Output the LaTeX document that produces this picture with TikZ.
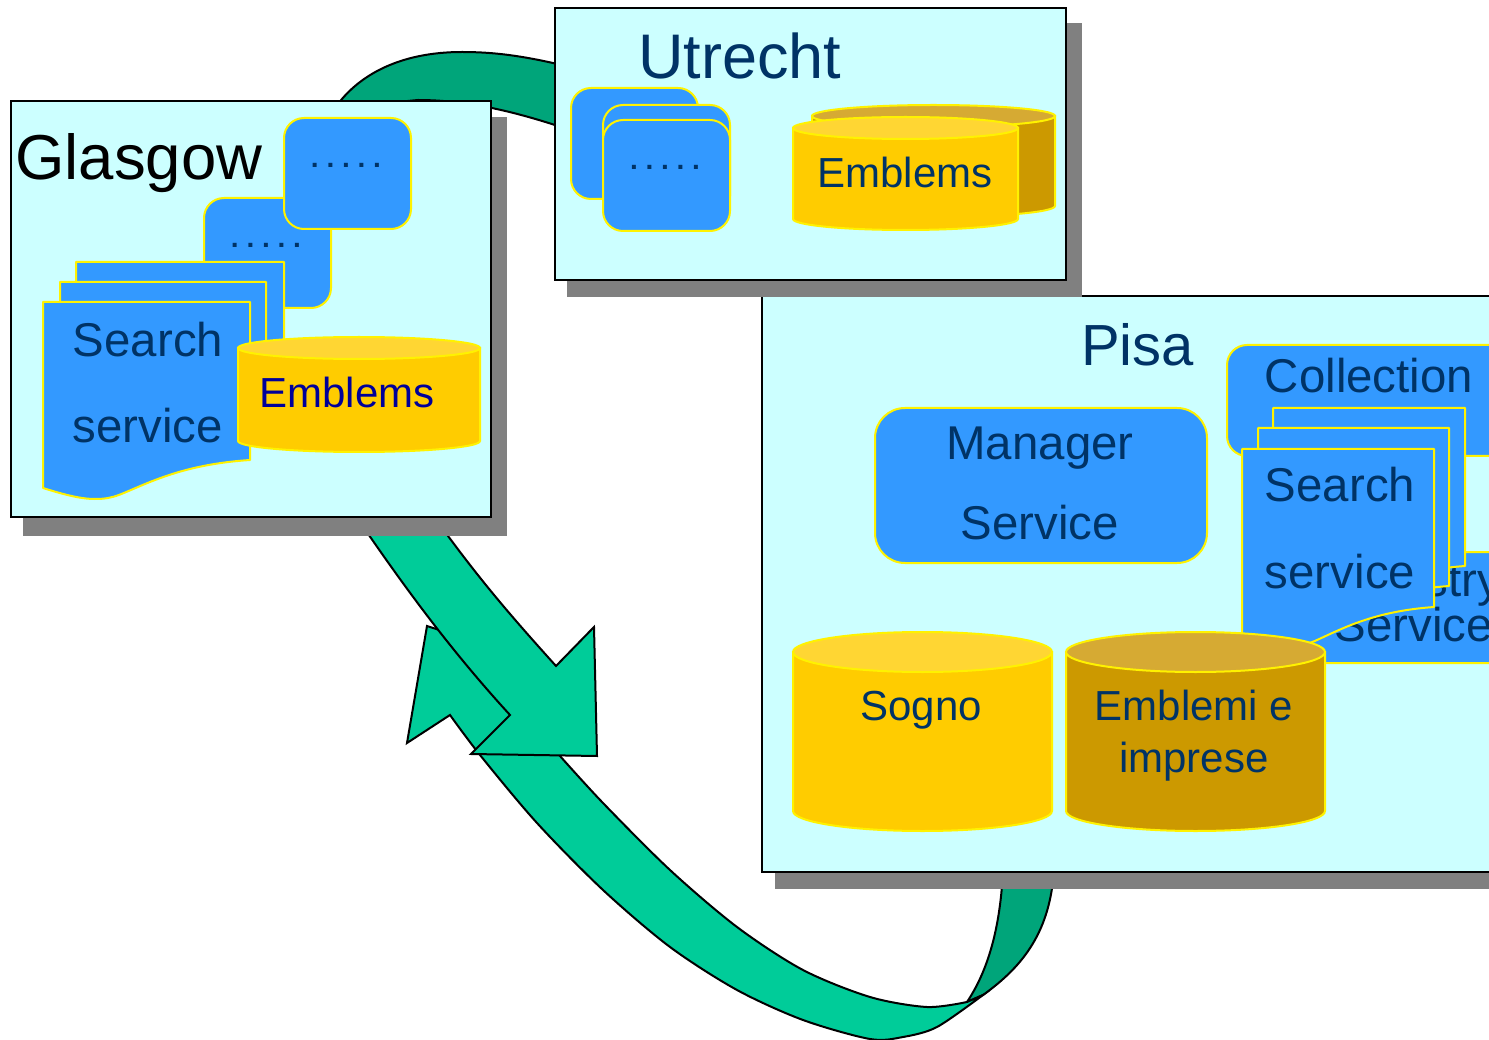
\documentclass[tikz,border=0pt]{standalone}
\usepackage{fontspec}
\setmainfont{Liberation Sans}
\usetikzlibrary{
shadows,
positioning
}
\definecolor{sitecyan}{HTML}{CCFFFF}
\definecolor{shadowgray}{HTML}{808080}
\definecolor{serviceblue}{HTML}{3399FF}
\definecolor{textnavy}{HTML}{003366}
\definecolor{goldbody}{HTML}{FFCC00}
\definecolor{goldtop}{HTML}{FFD633}
\definecolor{darkbody}{HTML}{CC9900}
\definecolor{darktop}{HTML}{D6AA33}
\definecolor{ribbon}{HTML}{00CC99}
\definecolor{ribbonback}{HTML}{00A57A}
\tikzset{
	site/.style 2 args={draw=black,fill=sitecyan,line width=2pt,anchor=north west,inner sep=0pt,outer sep=0pt,
		drop shadow={shadow xshift=#1pt,shadow yshift=-#2pt,shadow scale=1.007,fill=shadowgray,opacity=1}},
	service/.style={draw=yellow,fill=serviceblue,line width=2pt,rounded corners=20pt,anchor=north west,inner sep=0pt,outer sep=0pt},
	page/.style={draw=yellow,fill=serviceblue,line width=2pt,line join=round},
	band/.style={draw=black,fill=ribbon,line width=2pt,line join=miter},
	sitelabel/.style={text=textnavy,anchor=base west,inner sep=0pt},
	label/.style={text=textnavy,inner sep=0pt,align=center},
	dots/.style={label,font=\fontsize{28}{30}\selectfont\bfseries\frenchspacing}
}
% x, y, width
\newcommand{\docpage}[3]{
	\filldraw[page] (#1,#2) -- (#1+#3,#2) -- (#1+#3,#2+158)
		.. controls (#1+.783*#3,#2+161) and (#1+.638*#3,#2+170) .. (#1+.517*#3,#2+180)
		.. controls (#1+.372*#3,#2+192) and (#1+.348*#3,#2+197) .. (#1+.251*#3,#2+197)
		.. controls (#1+.179*#3,#2+197) and (#1+.092*#3,#2+192) .. (#1,#2+186) -- cycle;
}
% left, y of top centre, width, body height, top radius, body colour, top colour
\newcommand{\drum}[7]{
	\filldraw[draw=yellow,fill=#6,line width=2pt] (#1,#2) -- ++(0,#4) arc[start angle=180,end angle=0,x radius=#3/2,y radius=#5] -- ++(0,-#4) -- cycle;
	\filldraw[draw=yellow,fill=#7,line width=2pt] (#1+#3/2,#2) ellipse[x radius=#3/2,y radius=#5];
}
\begin{document}
\begin{tikzpicture}[x=1pt,y=-1pt,font=\fontsize{47.4}{56}\selectfont]
	\useasboundingbox (0,0) rectangle (1489,1040);
	\clip (0,0) rectangle (1489,1040);

	% back of the ribbon
	\filldraw[band,fill=ribbonback] (335,108) .. controls (358,75) and (400,52) .. (462,52) .. controls (495,52) and (525,56) .. (570,67)
		-- (570,130) .. controls (520,113) and (470,100) .. (418,100) -- (335,108) -- cycle;
	\filldraw[band,fill=ribbonback] (967,1002) .. controls (985,975) and (1000,935) .. (1003,870)
		-- (1054,870) .. controls (1050,930) and (1025,965) .. (983,995) -- cycle;

	% ribbon going up, then the one going down on top of it
	\filldraw[band] (427,626) -- (407,743)
		-- plot[smooth] coordinates {(450,715) (480,755) (537,823) (603,890) (670,947) (737,990) (803,1020) (870,1039) (903,1037) (937,1027) (983,995)}
		-- plot[smooth] coordinates {(967,1002) (927,1007) (870,997) (803,970) (737,927) (670,870) (603,803) (560,756)}
		-- (530,720) -- (470,640) -- cycle;
	\filldraw[band] (362,525) .. controls (410,595) and (455,655) .. (510,715) -- (471,754) -- (597,756) -- (594,627) -- (556,666)
		.. controls (510,615) and (480,580) .. (440,525) -- cycle;

	% Pisa
	\node[site={15.8}{15},minimum width=800,minimum height=576] (pisa) at (762,296) {};
	\node[sitelabel,font=\fontsize{58}{60}\selectfont] (pisaname) at (1081,366) {Pisa};
	\node[service,minimum width=284,minimum height=111] (collection) at (1227,345) {};
	\node[label,anchor=base] (collectionname) at (1369,393) {Collection};
	\node[service,minimum width=284,minimum height=111] (registry) at (1272,552) {};
	\node[label,font=\fontsize{47.4}{42}\selectfont] (registryname) at (1414,602) {Registry\\Service};
	\node[service,rounded corners=30pt,minimum width=332,minimum height=155] (manager) at (875,408) {};
	\node[label,font=\fontsize{47.4}{80}\selectfont] (managername) at (1040,483) {Manager\\Service};
	\docpage{1273}{408}{192}
	\docpage{1258}{428}{191}
	\docpage{1242}{449}{192}
	\node[label,font=\fontsize{47.4}{87}\selectfont] (pisasearch) at (1340,528.5) {Search\\service};
	\drum{793}{652}{259}{159}{20}{goldbody}{goldtop}
	\node[label,anchor=base,font=\fontsize{42}{50}\selectfont] (sogno) at (921,720) {Sogno};
	\drum{1066}{652}{259}{159}{20}{darkbody}{darktop}
	\node[label,font=\fontsize{42}{52}\selectfont] (emblemi) at (1194,736) {Emblemi e\\imprese};

	% Utrecht
	\node[site={14}{16},minimum width=511,minimum height=272] (utrecht) at (555,8) {};
	\node[sitelabel,font=\fontsize{63}{70}\selectfont] (utrechtname) at (638,79) {Utrecht};
	\node[service,minimum width=127,minimum height=111] (utrechtback) at (571,88) {};
	\node[service,minimum width=127,minimum height=111] (utrechtmid) at (603,105) {};
	\node[service,minimum width=127,minimum height=111] (utrechtfront) at (603,120) {};
	\node[dots] (utrechtdots) at (665,167) {. . . . .};
	\drum{812}{116}{243}{90}{11}{darkbody}{darktop}
	\drum{793}{128}{225}{91}{11}{goldbody}{goldtop}
	\node[label,anchor=base,font=\fontsize{42}{50}\selectfont] (utrechtemblems) at (905,188) {Emblems};

	% Glasgow
	\node[site={14}{17},minimum width=480,minimum height=416] (glasgow) at (11,101) {};
	\node[sitelabel,text=black,font=\fontsize{63.5}{70}\selectfont] (glasgowname) at (15,180) {Glasgow};
	\node[service,minimum width=127,minimum height=110] (glasgowback) at (204,198) {};
	\node[dots] (backdots) at (266,245) {. . . . .};
	\node[service,minimum width=127,minimum height=111] (glasgowfront) at (284,118) {};
	\node[dots] (frontdots) at (346,165) {. . . . .};
	\docpage{76}{262}{208}
	\docpage{60}{282}{206}
	\docpage{43}{302}{207}
	\node[label,font=\fontsize{47.4}{86}\selectfont] (glasgowsearch) at (148,383) {Search\\service};
	\drum{238}{348}{242}{93}{11}{goldbody}{goldtop}
	\node[label,anchor=base,text=blue!60!black,font=\fontsize{42}{50}\selectfont] (glasgowemblems) at (347,408) {Emblems};
\end{tikzpicture}
\end{document}
